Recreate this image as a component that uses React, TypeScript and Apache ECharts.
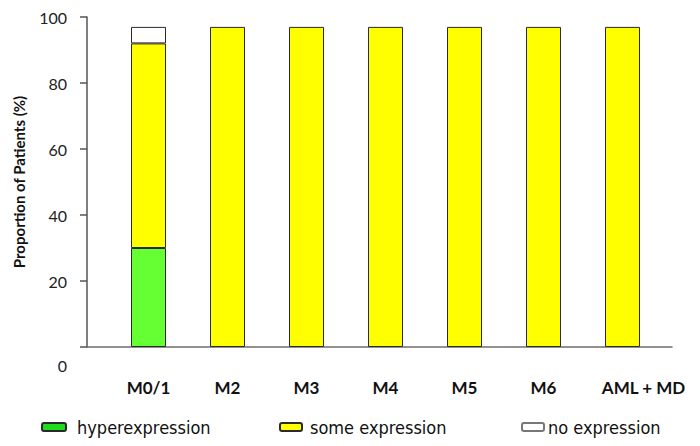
import React, { useEffect, useRef } from "react";
import * as echarts from "echarts";

const categories = ["M0/1", "M2", "M3", "M4", "M5", "M6", "AML + MD"];
const hyperexpression = [30, null, null, null, null, null, null];
const someExpression = [62, 97, 97, 97, 97, 97, 97];
const noExpression = [5, null, null, null, null, null, null];
const yTicks = { min: 0, max: 100, interval: 20 };
const seriesNames = ["hyperexpression", "some expression", "no expression"];

export default function App() {
  const ref = useRef<HTMLDivElement>(null);
  useEffect(() => {
    if (!ref.current) return;
    const chart = echarts.init(ref.current, null, { renderer: "svg" });
    const border = { borderColor: "#2a2a2a", borderWidth: 1 };
    const legendFont = {
      fontFamily: "'DejaVu Sans Condensed', 'DejaVu Sans', sans-serif",
      fontSize: 18,
      color: "#111",
    };
    const legendCommon = {
      top: 418,
      padding: 0,
      itemHeight: 8,
      itemGap: 0,
    };
    chart.setOption({
      animation: false,
      backgroundColor: "#ffffff",
      grid: [
        { left: 109, right: 38, top: 17, bottom: 99 },
        { left: 87, right: 28, top: 17, bottom: 99 },
      ],
      xAxis: [
        {
          type: "category",
          gridIndex: 0,
          data: categories,
          axisLine: { show: false },
          axisTick: { show: false },
          axisLabel: {
            interval: 0,
            margin: 32,
            fontFamily: "Lato",
            fontWeight: "bold",
            fontSize: 17,
            color: "#111",
            formatter: (v: string, i: number) =>
              i === categories.length - 1 ? `{last|${v}}` : v,
            rich: {
              last: {
                padding: [0, 0, 0, 42],
                fontFamily: "Lato",
                fontWeight: "bold",
                fontSize: 17,
                color: "#111",
              },
            },
          },
        },
        {
          type: "value",
          gridIndex: 1,
          min: 0,
          max: 1,
          axisLine: { show: true, onZero: false, lineStyle: { color: "#6e6e6e", width: 1.5 } },
          axisTick: { show: false },
          axisLabel: { show: false },
          splitLine: { show: false },
        },
      ],
      yAxis: [
        {
          type: "value",
          gridIndex: 0,
          ...yTicks,
          show: false,
          splitLine: { show: false },
        },
        {
          type: "value",
          gridIndex: 1,
          ...yTicks,
          name: "Proportion of Patients (%)",
          nameLocation: "middle",
          nameGap: 61,
          nameTextStyle: {
            fontFamily: "Lato",
            fontWeight: "bold",
            fontSize: 15,
            color: "#111",
          },
          axisLine: { show: true, lineStyle: { color: "#555", width: 1.5 } },
          axisTick: { show: true, length: 7, lineStyle: { color: "#555", width: 1.5 } },
          splitLine: { show: false },
          axisLabel: {
            margin: 20,
            fontFamily: "Lato",
            fontSize: 16,
            color: "#222",
            formatter: (v: number) => (v === 0 ? "{z|0}" : String(v)),
            rich: {
              z: { padding: [36, 0, 0, 0], fontFamily: "Lato", fontSize: 16, color: "#222" },
            },
          },
        },
      ],
      legend: [
        {
          ...legendCommon,
          data: [{ name: seriesNames[0], itemStyle: { color: "#1fdc1f" } }],
          left: 41,
          itemWidth: 24,
          textStyle: { ...legendFont, padding: [0, 0, 0, 6] },
        },
        {
          ...legendCommon,
          data: [seriesNames[1]],
          left: 279,
          itemWidth: 22,
          textStyle: { ...legendFont, padding: [0, 0, 0, 3] },
        },
        {
          ...legendCommon,
          data: [{ name: seriesNames[2], itemStyle: { borderColor: "#777" } }],
          left: 521,
          itemWidth: 22,
          textStyle: { ...legendFont, padding: [0, 0, 0, -1] },
        },
      ],
      series: [
        {
          name: seriesNames[0],
          type: "bar",
          stack: "total",
          barWidth: 35,
          data: hyperexpression,
          itemStyle: { color: "#66ff33", ...border },
        },
        {
          name: seriesNames[1],
          type: "bar",
          stack: "total",
          barWidth: 35,
          data: someExpression,
          itemStyle: { color: "#ffff00", ...border },
        },
        {
          name: seriesNames[2],
          type: "bar",
          stack: "total",
          barWidth: 35,
          data: noExpression,
          itemStyle: { color: "#ffffff", ...border },
        },
      ],
    });
    return () => chart.dispose();
  }, []);
  return <div ref={ref} style={{ width: 700, height: 446, position: "absolute", left: 0, top: 0 }} />;
}
